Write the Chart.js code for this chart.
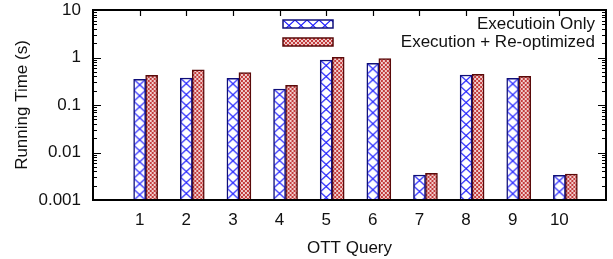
<!DOCTYPE html>
<html>
<head>
<meta charset="utf-8">
<script src="https://cdn.jsdelivr.net/npm/chart.js@4.4.1/dist/chart.umd.min.js"></script>
<style>
html,body{margin:0;padding:0;background:#fff;}
#c{display:block;}
</style>
</head>
<body>
<canvas id="c" width="613" height="259"></canvas>
<script>
// ---- data ----
const queries = [1, 2, 3, 4, 5, 6, 7, 8, 9, 10];
const execOnly = [0.348, 0.37, 0.365, 0.217, 0.886, 0.755, 0.00336, 0.428, 0.365, 0.00331];
const execReopt = [0.42, 0.553, 0.479, 0.26, 1.01, 0.944, 0.00365, 0.443, 0.402, 0.00353];
const yTickValues = [0.001, 0.01, 0.1, 1, 10];
const yTickLabels = ['0.001', '0.01', '0.1', '1', '10'];
const seriesNames = ['Executioin Only', 'Execution + Re-optimized'];
const xTitle = 'OTT Query';
const yTitle = 'Running Time (s)';

const FONT = '"Liberation Sans", Arial, sans-serif';
const FS = 17;
const BAR_W = 12;

function bluePattern(ctx, ox, oy) {
  const c = document.createElement('canvas');
  c.width = 12; c.height = 11;
  const g = c.getContext('2d');
  g.fillStyle = '#ffffff'; g.fillRect(0, 0, 12, 11);
  g.strokeStyle = '#1a1aff'; g.lineWidth = 1.2;
  g.beginPath();
  g.moveTo(0, 0); g.lineTo(12, 11);
  g.moveTo(12, 0); g.lineTo(0, 11);
  g.stroke();
  const p = ctx.createPattern(c, 'repeat');
  if (p.setTransform) p.setTransform(new DOMMatrix().translate(ox || 0, oy || 0));
  return p;
}
function redPattern(ctx, ox, oy) {
  const c = document.createElement('canvas');
  c.width = 4; c.height = 4;
  const g = c.getContext('2d');
  g.fillStyle = '#c43c3c'; g.fillRect(0, 0, 4, 4);
  g.fillStyle = '#ffffff';
  g.fillRect(0, 0, 2, 2);
  g.fillRect(2, 2, 2, 2);
  g.fillStyle = '#c43c3c';
  g.fillRect(0.5, 0.5, 1, 1);
  g.fillRect(2.5, 2.5, 1, 1);
  const p = ctx.createPattern(c, 'repeat');
  if (p.setTransform) p.setTransform(new DOMMatrix().translate(ox || 0, oy || 0));
  return p;
}
const canvas = document.getElementById('c');
const ctx0 = canvas.getContext('2d');
const blueBorder = '#10107a';
const redBorder = '#5a0a0a';

const frame = {
  id: 'frame',
  afterDraw(chart) {
    const ctx = chart.ctx;
    const a = chart.chartArea;
    const y = chart.scales.y, x = chart.scales.x;
    ctx.save();
    ctx.strokeStyle = '#000';
    ctx.lineWidth = 1.2;
    ctx.beginPath();
    for (let k = -3; k <= 1; k++) {
      for (let m = 1; m <= 9; m++) {
        const v = m * Math.pow(10, k);
        if (v < 0.001 || v > 10) continue;
        const py = Math.round(y.getPixelForValue(v)) + 0.5;
        const len = m === 1 ? 8 : 4;
        ctx.moveTo(a.left, py); ctx.lineTo(a.left + len, py);
        ctx.moveTo(a.right, py); ctx.lineTo(a.right - len, py);
      }
    }
    queries.forEach(q => {
      const px = Math.round(x.getPixelForValue(q)) + 0.5;
      ctx.moveTo(px, a.top); ctx.lineTo(px, a.top + 6);
    });
    ctx.stroke();
    ctx.lineWidth = 2;
    ctx.strokeRect(a.left, a.top, a.right - a.left, a.bottom - a.top);
    // legend
    const keys = [
      {pat: bluePattern(ctx, 283, 20), border: blueBorder, y: 24},
      {pat: redPattern(ctx, 283, 38), border: redBorder, y: 42}
    ];
    ctx.font = FS + 'px ' + FONT;
    ctx.textAlign = 'right';
    ctx.textBaseline = 'middle';
    keys.forEach((k, i) => {
      ctx.fillStyle = k.pat;
      ctx.fillRect(283, k.y - 4, 50, 8);
      ctx.strokeStyle = k.border;
      ctx.lineWidth = 1.5;
      ctx.strokeRect(283, k.y - 4, 50, 8);
      ctx.fillStyle = '#111';
      ctx.fillText(seriesNames[i], 595, k.y + 0.5);
    });
    ctx.restore();
  }
};

const chart = new Chart(canvas, {
  type: 'bar',
  data: {
    datasets: [
      {
        label: seriesNames[0],
        data: queries.map((q, i) => ({x: q, y: execOnly[i]})),
        backgroundColor: bluePattern(ctx0),
        borderColor: blueBorder,
        borderWidth: 1.5,
        borderSkipped: 'bottom',
        barThickness: BAR_W,
        grouped: false
      },
      {
        label: seriesNames[1],
        data: queries.map((q, i) => ({x: q, y: execReopt[i]})),
        backgroundColor: redPattern(ctx0),
        borderColor: redBorder,
        borderWidth: 1.5,
        borderSkipped: 'bottom',
        barThickness: BAR_W,
        grouped: false
      }
    ]
  },
  options: {
    responsive: false,
    animation: false,
    devicePixelRatio: 1,
    layout: {padding: {top: 10, right: 7, left: 0, bottom: 0}},
    plugins: {legend: {display: false}, tooltip: {enabled: false}},
    scales: {
      x: {
        type: 'linear',
        min: 0, max: 11,
        offset: false,
        grid: {display: false, drawTicks: false},
        border: {display: false},
        afterBuildTicks: s => { s.ticks = queries.map(v => ({value: v})); },
        ticks: {
          autoSkip: false,
          maxRotation: 0,
          padding: 10,
          color: '#111',
          font: {family: FONT, size: FS},
          callback: v => String(v)
        },
        title: {display: true, text: xTitle, color: '#111', font: {family: FONT, size: FS}, padding: {top: 0, bottom: 0}},
        afterFit: s => { s.height = 59; s.paddingLeft = 0; s.paddingRight = 0; }
      },
      y: {
        type: 'logarithmic',
        min: 0.001, max: 10,
        grid: {display: false, drawTicks: false},
        border: {display: false},
        afterBuildTicks: s => { s.ticks = yTickValues.map(v => ({value: v})); },
        ticks: {
          padding: 12,
          color: '#111',
          font: {family: FONT, size: FS},
          callback: v => yTickLabels[yTickValues.indexOf(v)]
        },
        title: {display: true, text: yTitle, color: '#111', font: {family: FONT, size: FS}, padding: {top: 12, bottom: 0}},
        afterFit: s => { s.width = 93; s.paddingTop = 0; s.paddingBottom = 0; }
      }
    }
  },
  plugins: [frame]
});

// gnuplot-style clustering: second series sits one bar width to the right,
// and each bar's fill pattern is anchored at the bar's own corner.
const xs = chart.scales.x, ys = chart.scales.y;
const unit = xs.getPixelForValue(1) - xs.getPixelForValue(0);
const shift = BAR_W / unit;
chart.data.datasets[1].data = queries.map((q, i) => ({x: q + shift, y: execReopt[i]}));
chart.data.datasets[0].backgroundColor = queries.map((q, i) =>
  bluePattern(ctx0, xs.getPixelForValue(q) - BAR_W / 2, ys.getPixelForValue(execOnly[i])));
chart.data.datasets[1].backgroundColor = queries.map((q, i) =>
  redPattern(ctx0, xs.getPixelForValue(q + shift) - BAR_W / 2, 0));
chart.update('none');
</script>
</body>
</html>
